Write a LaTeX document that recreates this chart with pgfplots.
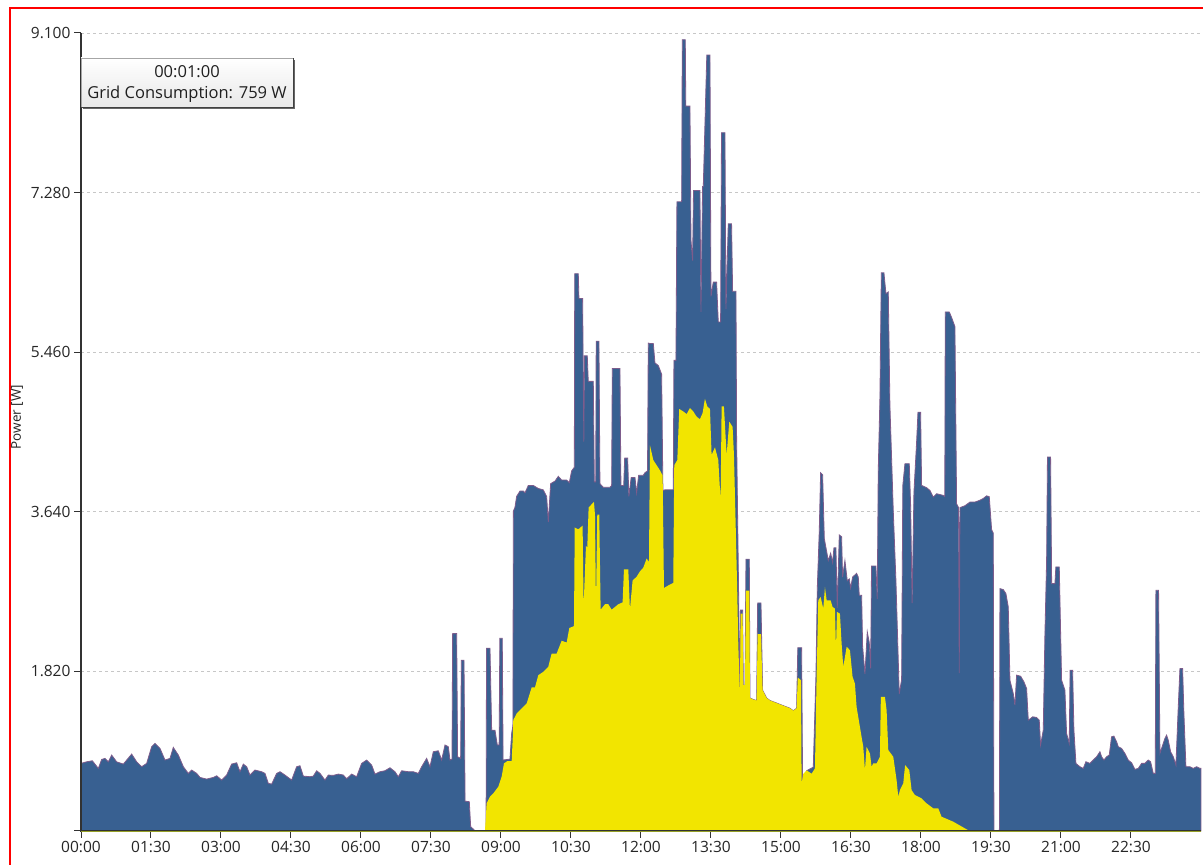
\documentclass[border=0pt]{standalone}
\usepackage{pgfplots}
\pgfplotsset{compat=1.18}
\usepackage{fontspec}
\setmainfont{Open Sans}
\definecolor{cblue}{RGB}{56,96,145}
\definecolor{cyel}{RGB}{242,229,0}
\definecolor{cedge}{RGB}{125,92,140}
\definecolor{colive}{RGB}{150,160,40}
\definecolor{caxis}{RGB}{50,50,50}
\begin{document}
\begin{tikzpicture}[x=1pt,y=1pt]
\useasboundingbox (0,0) rectangle (1203,865);
\fill[white] (0,0) rectangle (1203,865);
\draw[red, line width=1.3pt] (10,0) -- (10,857) -- (1203,857);
\begin{axis}[at={(81pt,34pt)}, anchor=origin, scale only axis,
  width=1120pt, height=798pt,
  xmin=0, xmax=24, ymin=0, ymax=9100,
  axis x line*=bottom, axis y line*=left,
  axis line style={-, draw=caxis, line width=1.6pt},
  xtick={0,1.5,3,4.5,6,7.5,9,10.5,12,13.5,15,16.5,18,19.5,21,22.5},
  xticklabels={00:00,01:30,03:00,04:30,06:00,07:30,09:00,10:30,12:00,13:30,15:00,16:30,18:00,19:30,21:00,22:30},
  ytick={0,1820,3640,5460,7280,9100},
  yticklabels={,1.820,3.640,5.460,7.280,9.100},
  tick align=outside, major tick length=7pt,
  tick style={caxis, line width=1pt},
  ymajorgrids, grid style={dashed, black!22, line width=0.7pt},
  ticklabel style={font=\fontsize{15.5}{18}\selectfont, text=black!85},
  no markers, clip=false,
]
\addplot[fill=cblue, draw=cedge, line width=0.8pt] coordinates {
(0,771) (0.121,789) (0.243,801) (0.371,714) (0.443,816) (0.514,828) (0.586,789) (0.657,866) (0.764,789) (0.907,763) (0.979,809) (1.086,877) (1.193,789) (1.300,733) (1.407,771) (1.514,961) (1.586,999) (1.693,942) (1.800,809) (1.907,828) (1.978,953) (2.086,866) (2.193,733) (2.300,657) (2.371,695) (2.478,657) (2.550,611) (2.693,592) (2.836,611) (2.907,630) (3.014,581) (3.121,638) (3.228,763) (3.336,778) (3.407,676) (3.478,763) (3.550,733) (3.621,638) (3.728,695) (3.871,676) (3.943,657) (4.014,543) (4.086,535) (4.193,657) (4.264,676) (4.371,638) (4.514,581) (4.621,733) (4.693,744) (4.764,626) (4.907,619) (4.978,626) (5.050,687) (5.121,657) (5.228,581) (5.300,638) (5.407,634) (5.514,649) (5.621,638) (5.693,596) (5.800,649) (5.907,619) (6.014,771) (6.121,809) (6.228,752) (6.300,649) (6.407,676) (6.514,687) (6.621,721) (6.728,676) (6.800,619) (6.871,687) (7.014,676) (7.121,676) (7.228,657) (7.300,733) (7.407,828) (7.478,733) (7.550,904) (7.657,915) (7.728,809) (7.800,980) (7.871,961) (7.907,809) (7.950,820) (7.964,2251) (8.050,2251) (8.070,847) (8.135,828) (8.150,1948) (8.207,1948) (8.230,340) (8.321,334) (8.350,49) (8.421,15) (8.435,0) (8.680,0) (8.690,2084) (8.764,2084) (8.800,1150) (8.871,1150) (8.921,980) (8.960,980) (8.975,2198) (9.027,2198) (9.045,809) (9.192,820) (9.229,1116) (9.255,1200) (9.265,3648) (9.299,3690) (9.335,3815) (9.407,3877) (9.478,3877) (9.514,3856) (9.585,3940) (9.692,3940) (9.799,3906) (9.906,3890) (9.978,3815) (10.014,3523) (10.064,3961) (10.157,3990) (10.228,4044) (10.300,4002) (10.407,4002) (10.464,3973) (10.514,4106) (10.571,4148) (10.580,6355) (10.656,6355) (10.670,6072) (10.749,6072) (10.775,4440) (10.790,5418) (10.849,5418) (10.870,5127) (10.978,5127) (11.000,3981) (11.030,3981) (11.040,5585) (11.099,5585) (11.120,3961) (11.192,3919) (11.335,3919) (11.371,3940) (11.385,5273) (11.549,5273) (11.570,3940) (11.630,3940) (11.650,4252) (11.714,4252) (11.740,3815) (11.790,4031) (11.871,4031) (11.906,3856) (11.950,4056) (12.049,4056) (12.085,4086) (12.140,4106) (12.156,5564) (12.192,5559) (12.264,5559) (12.299,5338) (12.371,5308) (12.442,5209) (12.470,3879) (12.514,3891) (12.692,3891) (12.706,5367) (12.749,5367) (12.770,7175) (12.871,7175) (12.885,9024) (12.949,9024) (12.960,8266) (13.049,8266) (13.071,6738) (13.106,6504) (13.125,7303) (13.263,7303) (13.285,5921) (13.320,7350) (13.335,7350) (13.410,8849) (13.478,8849) (13.499,6096) (13.549,6259) (13.620,6259) (13.656,5804) (13.706,5804) (13.725,7963) (13.799,7963) (13.820,5950) (13.870,6924) (13.941,6924) (13.963,6154) (14.035,6154) (14.049,4463) (14.085,3000) (14.120,1546) (14.135,2520) (14.178,2520) (14.192,1663) (14.228,1663) (14.250,3100) (14.321,3100) (14.335,1517) (14.406,1499) (14.478,1488) (14.500,2600) (14.571,2600) (14.606,1605) (14.692,1517) (14.763,1488) (14.906,1459) (15.049,1429) (15.192,1400) (15.263,1371) (15.335,1400) (15.360,2090) (15.442,2090) (15.463,562) (15.549,687) (15.692,728) (15.749,1770) (15.778,2771) (15.820,3417) (15.849,4084) (15.892,4063) (15.928,3334) (15.978,3188) (16.013,3084) (16.064,3167) (16.106,3063) (16.135,3230) (16.177,3230) (16.206,2542) (16.249,3376) (16.299,3355) (16.320,2896) (16.370,3084) (16.420,2854) (16.463,2875) (16.492,2771) (16.535,2896) (16.620,2938) (16.656,2896) (16.677,2688) (16.728,2688) (16.749,2104) (16.799,1791) (16.849,2271) (16.892,2146) (16.921,1854) (16.940,3021) (17.034,3021) (17.063,2646) (17.084,4105) (17.120,4939) (17.150,6365) (17.206,6365) (17.249,6127) (17.299,6148) (17.334,4856) (17.406,3647) (17.463,2854) (17.534,1562) (17.585,1729) (17.610,3938) (17.656,4188) (17.749,4188) (17.778,3713) (17.810,2600) (17.849,3865) (17.906,4434) (17.935,4776) (17.992,4776) (18.013,3941) (18.120,3915) (18.192,3884) (18.263,3808) (18.334,3846) (18.477,3827) (18.510,3813) (18.520,5919) (18.606,5919) (18.656,5856) (18.727,5752) (18.763,3732) (18.805,3688) (18.820,1800) (18.835,3688) (18.942,3709) (19.049,3751) (19.156,3751) (19.263,3772) (19.334,3792) (19.406,3822) (19.463,3813) (19.513,3438) (19.549,3396) (19.563,0) (19.680,0) (19.692,2764) (19.763,2753) (19.820,2707) (19.870,2555) (19.906,1720) (19.977,1568) (20.013,1435) (20.049,1777) (20.135,1765) (20.206,1701) (20.263,1625) (20.299,1264) (20.349,1283) (20.392,1302) (20.477,1295) (20.534,1264) (20.563,980) (20.620,1150) (20.656,2251) (20.692,3087) (20.710,4264) (20.777,4264) (20.800,2821) (20.870,2821) (20.890,3011) (20.963,3011) (21.013,1720) (21.084,1606) (21.120,1112) (21.177,999) (21.195,1834) (21.249,1834) (21.277,1150) (21.320,771) (21.406,733) (21.477,714) (21.534,790) (21.620,771) (21.691,809) (21.763,847) (21.834,904) (21.870,847) (21.920,809) (21.977,847) (22.034,866) (22.084,1074) (22.134,1082) (22.191,1018) (22.227,961) (22.298,942) (22.370,885) (22.441,809) (22.513,778) (22.584,703) (22.656,714) (22.727,771) (22.798,771) (22.870,809) (22.920,790) (22.977,657) (23.020,657) (23.034,2745) (23.091,2745) (23.120,885) (23.156,942) (23.227,1056) (23.263,1093) (23.298,1037) (23.349,904) (23.406,847) (23.463,752) (23.513,1416) (23.549,1853) (23.606,1853) (23.634,1340) (23.677,733) (23.763,733) (23.834,714) (23.906,733) (23.977,714) (24,714)
} \closedcycle;
\addplot[fill=cyel, draw=none] coordinates {
(8.657,0) (8.693,315) (8.764,391) (8.835,429) (8.942,505) (9.014,619) (9.064,771) (9.135,797) (9.229,797) (9.255,1100) (9.263,1264) (9.336,1340) (9.477,1416) (9.550,1454) (9.657,1637) (9.728,1637) (9.799,1777) (9.906,1815) (10.013,1872) (10.085,2024) (10.193,2024) (10.300,2170) (10.407,2149) (10.464,2315) (10.564,2336) (10.580,3461) (10.656,3440) (10.749,3482) (10.770,2565) (10.821,3252) (10.849,3232) (10.878,3690) (10.992,3752) (11.014,3607) (11.035,2565) (11.063,3607) (11.106,3607) (11.135,2524) (11.228,2586) (11.299,2586) (11.371,2524) (11.514,2586) (11.606,2607) (11.635,2982) (11.728,2982) (11.763,2524) (11.820,2857) (11.906,2899) (11.978,2961) (12.049,3003) (12.121,3107) (12.171,3065) (12.192,4398) (12.264,4230) (12.335,4171) (12.406,4113) (12.464,4054) (12.492,2771) (12.585,2800) (12.692,2829) (12.713,4171) (12.778,4230) (12.820,4813) (12.906,4784) (12.978,4754) (13.049,4824) (13.120,4784) (13.192,4725) (13.263,4696) (13.320,4766) (13.370,4929) (13.420,4842) (13.478,4813) (13.513,4288) (13.585,4375) (13.656,4230) (13.706,3763) (13.728,4842) (13.777,4842) (13.835,4288) (13.892,4667) (13.963,4609) (13.992,4288) (14.035,3354) (14.063,2713) (14.085,2130) (14.120,1546) (14.135,2479) (14.178,2479) (14.192,1663) (14.228,1663) (14.250,2742) (14.321,2742) (14.335,1517) (14.406,1499) (14.478,1488) (14.500,2246) (14.571,2246) (14.606,1605) (14.692,1517) (14.763,1488) (14.906,1459) (15.049,1429) (15.192,1400) (15.263,1371) (15.335,1400) (15.360,1750) (15.428,1720) (15.442,543) (15.478,653) (15.549,691) (15.656,653) (15.728,714) (15.763,1758) (15.799,2631) (15.849,2669) (15.906,2536) (15.942,2783) (15.978,2631) (16.063,2631) (16.106,2555) (16.156,2536) (16.178,2081) (16.200,2498) (16.263,2479) (16.299,2138) (16.335,1872) (16.406,2100) (16.477,2062) (16.534,1758) (16.584,1682) (16.620,1416) (16.691,1188) (16.763,960) (16.799,695) (16.834,960) (16.906,885) (16.941,733) (16.977,771) (17.049,771) (17.120,846) (17.140,1530) (17.227,1530) (17.263,1378) (17.299,923) (17.406,846) (17.477,581) (17.513,391) (17.549,467) (17.620,543) (17.660,752) (17.749,695) (17.799,467) (17.870,410) (18.013,372) (18.120,315) (18.263,258) (18.370,258) (18.441,163) (18.691,106) (18.977,19) (19.049,0)
} \closedcycle;
\addplot[colive, line width=1pt] coordinates {(0,0) (24,0)};
\draw[caxis, line width=1.6pt] (rel axis cs:0,1) -- (rel axis cs:0,0) -- (rel axis cs:1,0);
\draw[colive, line width=0.8pt] (rel axis cs:0,0) -- (rel axis cs:1,0);
\end{axis}
\node[rotate=90, font=\fontsize{13.5}{16}\selectfont, text=black!85] at (17,448) {Power [W]};
\fill[black!60] (83,756) rectangle (294.5,805);
\shade[top color=white, bottom color=black!9] (81,758) rectangle (293,807);
\draw[black!35, line width=0.8pt] (81,758) rectangle (293,807);
\draw[black!75, line width=1.2pt] (81,757.6) -- (293.4,757.6) -- (293.4,807);
\node[font=\fontsize{16.5}{19}\selectfont, text=black!88] at (187,793) {00:01:00};
\node[font=\fontsize{16.5}{19}\selectfont, text=black!88] at (187,771) {Grid Consumption: 759 W};
\end{tikzpicture}
\end{document}
